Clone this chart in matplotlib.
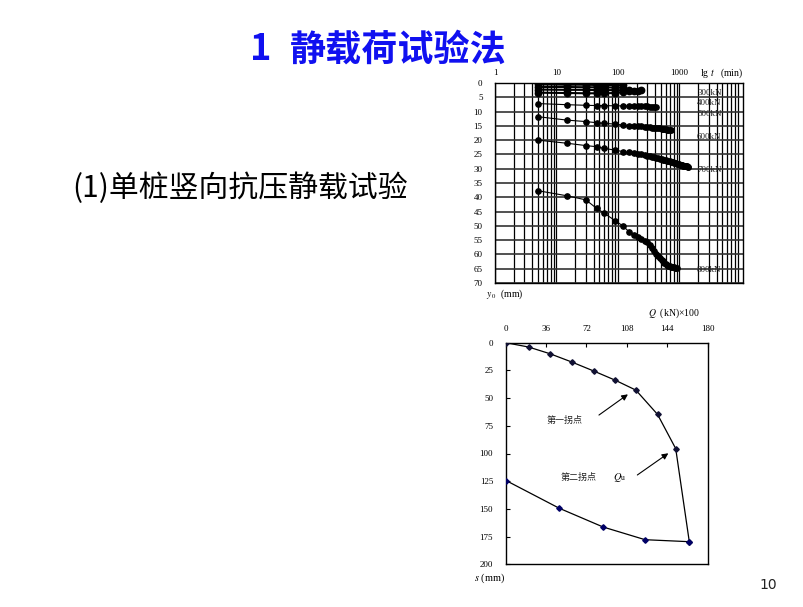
import matplotlib
matplotlib.use("Agg")
import matplotlib.pyplot as plt
import matplotlib.ticker as mticker

plt.rcParams['mathtext.fontset'] = 'stix'
SERIF = 'Liberation Serif'
CJK = ['Noto Sans CJK SC', 'DejaVu Sans']

# ---- data: upper chart (settlement vs. lg t, one curve per load step) ----
T = [5, 15, 30, 45, 60, 90, 120, 150, 180, 210, 240, 270, 300, 330, 360, 390, 420,
     450, 480, 510, 540, 570, 600, 630, 660, 690, 720, 750, 780, 810, 840, 870, 900,
     930, 960, 990, 1020, 1050, 1080, 1110, 1140, 1170, 1200, 1230, 1260, 1290, 1320,
     1350, 1380]

y_100 = [0.5, 0.6, 0.6, 0.7, 0.7, 0.7, 0.8]
y_150 = [1.4, 1.4, 1.5, 1.5, 1.5, 1.6, 1.6]
y_200 = [2.3, 2.4, 2.4, 2.5, 2.5, 2.5, 2.6, 2.6]
y_300 = [3.4, 3.5, 3.6, 3.6, 3.6, 3.5, 3.2, 2.9, 2.8, 2.7, 2.6]
y_400 = [7.2, 7.6, 7.8, 7.9, 7.9, 8.0, 8.0, 8.1, 8.1, 8.1, 8.2, 8.2, 8.2, 8.3, 8.3,
         8.3, 8.3]
y_500 = [11.8, 13.0, 13.5, 13.9, 14.1, 14.4, 14.7, 14.9, 15.0, 15.1, 15.2, 15.3, 15.4,
         15.5, 15.6, 15.7, 15.8, 15.9, 15.9, 16.0, 16.1, 16.1, 16.2, 16.3, 16.3, 16.4,
         16.5]
y_600 = [20.0, 21.1, 21.9, 22.3, 22.9, 23.5, 24.0, 24.3, 24.6, 24.8, 25.0, 25.2, 25.4,
         25.6, 25.8, 26.0, 26.2, 26.3, 26.5, 26.6, 26.8, 26.9, 27.0, 27.2, 27.3, 27.4,
         27.6, 27.7, 27.8, 27.9, 28.0, 28.1, 28.2, 28.3, 28.4, 28.5, 28.6, 28.7, 28.8,
         28.8, 28.9, 29.0, 29.0, 29.1, 29.1, 29.2, 29.2, 29.3, 29.3]
y_700 = [37.7, 39.5, 40.9, 43.9, 45.6, 48.2, 50.0, 52.0, 53.2, 54.0, 54.6, 55.2, 55.8,
         56.7, 57.8, 58.8, 59.7, 60.5, 61.2, 61.8, 62.4, 62.9, 63.3, 63.7, 64.0, 64.2,
         64.3, 64.4, 64.5, 64.5, 64.6, 64.6, 64.6]
top_band = [y_100, y_150, y_200, y_300]
curves = [y_400, y_500, y_600, y_700]

load_labels = ['300kN', '400kN', '500kN', '600kN', '700kN', '800kN']
upper_xticks = [1, 10, 100, 1000]
upper_yticks = list(range(0, 75, 5))

# ---- data: lower chart (Q-s curve) ----
Q_load = [0, 20.4, 39.3, 58.8, 78.3, 97.5, 116.0, 135.3, 151.5, 163.6]
s_load = [0, 3.9, 9.9, 17.4, 25.5, 33.8, 42.8, 64.7, 95.6, 179.6]
Q_unload = [0.5, 47.7, 86.7, 124.2, 163.6]
s_unload = [124.5, 149.4, 166.3, 177.8, 179.6]
lower_xticks = [0, 36, 72, 108, 144, 180]
lower_yticks = [0, 25, 50, 75, 100, 125, 150, 175, 200]

W, H = 804, 607
fig = plt.figure(figsize=(W / 100, H / 100), dpi=100)


def px(x, y):
    return x / W, 1 - y / H


# ---- slide text ----
fig.text(*px(250, 50), '1', color='#1010f0', fontsize=26, family=CJK,
         ha='left', va='center', fontweight='bold')
fig.text(*px(290, 50), '静载荷试验法', color='#1010f0', fontsize=26, family=CJK,
         ha='left', va='center', fontweight='bold')
fig.text(*px(72, 188), '(1)单桩竖向抗压静载试验', color='black', fontsize=21.5,
         family=CJK, ha='left', va='center')
fig.text(*px(768, 585), '10', fontsize=10, family='DejaVu Sans', ha='center',
         va='center', color='#222222')

# ---- upper chart ----
ax1 = fig.add_axes([495 / W, 1 - 283 / H, 248 / W, 200 / H])
for yv in top_band:
    ax1.plot(T[:len(yv)], yv, color='black', lw=1.5, marker='o', markersize=4.6,
             zorder=3)
for yv in curves:
    ax1.plot(T[:len(yv)], yv, color='black', lw=0.8, marker='o', markersize=3.8,
             zorder=3)
ax1.set_xscale('log')
ax1.set_xlim(1, 10 ** (248 / 61.5))
ax1.set_ylim(70, 0)
ax1.set_yticks(upper_yticks)
ax1.set_xticks(upper_xticks)
ax1.xaxis.set_major_formatter(mticker.FixedFormatter([str(v) for v in upper_xticks]))
ax1.xaxis.set_minor_locator(mticker.LogLocator(base=10, subs=range(2, 10)))
ax1.xaxis.set_minor_formatter(mticker.NullFormatter())
ax1.xaxis.tick_top()
ax1.tick_params(axis='both', which='both', length=0, labelsize=6.5, pad=4)
ax1.tick_params(axis='y', pad=9)
for lab in ax1.get_xticklabels() + ax1.get_yticklabels():
    lab.set_family(SERIF)
ax1.grid(True, which='both', axis='x', color='black', lw=0.9)
ax1.grid(True, which='major', axis='y', color='#333333', lw=1.2)
ax1.set_axisbelow(True)
for sp in ax1.spines.values():
    sp.set_linewidth(1.0)

label_y = [3.5, 7.0, 10.9, 18.9, 30.4, 65.4]
for lab, yv in zip(load_labels, label_y):
    ax1.text(0.815, yv, lab, transform=ax1.get_yaxis_transform(), fontsize=6.5,
             family=SERIF, va='center', ha='left', color='#222222', zorder=1)
fig.text(*px(700, 73), r'lg $t$   (min)', fontsize=7, family=SERIF, ha='left',
         va='center')
fig.text(*px(486, 294), r'$y_{\,0}$  (mm)', fontsize=7, family=SERIF, ha='left',
         va='center')

# ---- lower chart ----
ax2 = fig.add_axes([505.7 / W, 1 - 564.3 / H, 202 / W, 221.6 / H])
ax2.plot(Q_load, s_load, color='black', lw=0.9, zorder=2)
ax2.plot(Q_load, s_load, ls='none', marker='D', markersize=2.8, color='#111133',
         zorder=3)
ax2.plot(Q_unload, s_unload, color='black', lw=0.9, zorder=2)
ax2.plot(Q_unload, s_unload, ls='none', marker='D', markersize=2.8,
         color='#000066', zorder=3)
ax2.set_xlim(0, 180)
ax2.set_ylim(200, 0)
ax2.set_xticks(lower_xticks)
ax2.set_yticks(lower_yticks)
ax2.xaxis.tick_top()
ax2.tick_params(axis='both', direction='in', length=3, width=0.8, labelsize=6.5,
                pad=9)
ax2.tick_params(axis='x', pad=7)
for lab in ax2.get_xticklabels() + ax2.get_yticklabels():
    lab.set_family(SERIF)
for sp in ax2.spines.values():
    sp.set_linewidth(1.0)

arrow = dict(arrowstyle='-|>', lw=0.8, color='black', mutation_scale=9,
             shrinkA=0, shrinkB=0)
ax2.annotate('', xy=(108.9, 46.6), xytext=(83.1, 65.3), arrowprops=arrow)
ax2.annotate('', xy=(144.9, 99.8), xytext=(117.3, 119.4), arrowprops=arrow)
ax2.text(36.3, 69.8, '第一拐点', fontsize=6.5, family=CJK, va='center',
         ha='left', color='#222222')
ax2.text(48.9, 121.8, '第二拐点', fontsize=6.5, family=CJK, va='center',
         ha='left', color='#222222')
ax2.text(95.4, 121.8, r'$Q$', fontsize=7.5, va='center', ha='left')
ax2.text(102.5, 122.5, 'u', fontsize=5.5, family=SERIF, va='center', ha='left')

fig.text(*px(648, 313), r'$Q$  (kN)×100', fontsize=7, family=SERIF, ha='left',
         va='center')
fig.text(*px(474, 578), r'$s$ (mm)', fontsize=7.5, family=SERIF, ha='left',
         va='center')

fig.savefig('out.png', dpi=100)
